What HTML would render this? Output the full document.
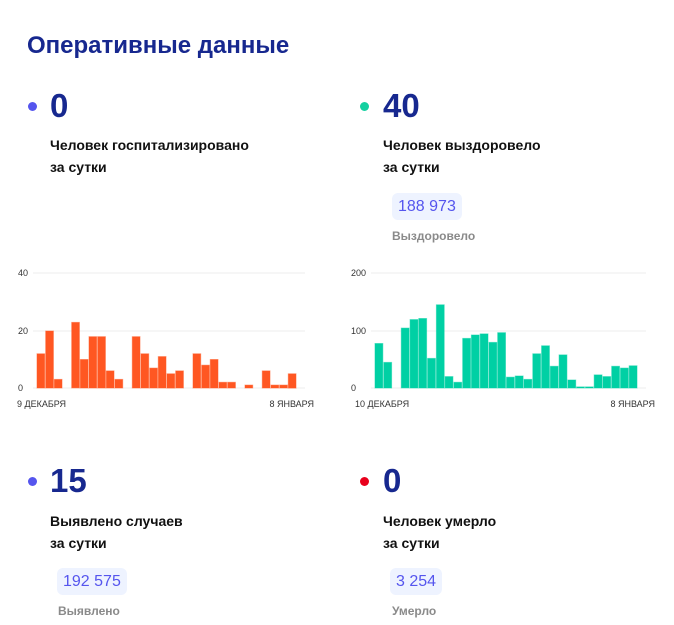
<!DOCTYPE html>
<html><head><meta charset="utf-8"><style>
body{margin:0;width:674px;height:625px;background:#fff;font-family:"Liberation Sans",sans-serif;position:relative;overflow:hidden}
.a{position:absolute;white-space:nowrap}
.t{left:27px;top:32px;font-size:24px;font-weight:bold;color:#17288f}
.n{font-size:33px;font-weight:bold;color:#17288f;line-height:33px}
.d{width:9px;height:9px;border-radius:50%}
.l{font-size:14px;font-weight:bold;color:#111;line-height:22px}
.b{background:#eef3ff;border-radius:6px;color:#5555ee;font-size:16px;height:27px;line-height:27px;padding:0 6px}
.g{font-size:12px;font-weight:bold;color:#8a8a8a}
</style></head><body>
<div class="a t">Оперативные данные</div>

<div class="a d" style="left:28px;top:102px;background:#5555ee"></div>
<div class="a n" style="left:50px;top:89px">0</div>
<div class="a l" style="left:50px;top:134px">Человек госпитализировано<br>за сутки</div>

<div class="a d" style="left:360px;top:102px;background:#14d0a0"></div>
<div class="a n" style="left:383px;top:89px">40</div>
<div class="a l" style="left:383px;top:134px">Человек выздоровело<br>за сутки</div>
<div class="a b" style="left:392px;top:193px">188 973</div>
<div class="a g" style="left:392px;top:229px">Выздоровело</div>

<div class="a d" style="left:28px;top:477px;background:#5555ee"></div>
<div class="a n" style="left:50px;top:464px">15</div>
<div class="a l" style="left:50px;top:510px">Выявлено случаев<br>за сутки</div>
<div class="a b" style="left:57px;top:568px">192 575</div>
<div class="a g" style="left:58px;top:604px">Выявлено</div>

<div class="a d" style="left:360px;top:477px;background:#e8001c"></div>
<div class="a n" style="left:383px;top:464px">0</div>
<div class="a l" style="left:383px;top:510px">Человек умерло<br>за сутки</div>
<div class="a b" style="left:390px;top:568px">3 254</div>
<div class="a g" style="left:392px;top:604px">Умерло</div>

<svg class="a" style="left:0;top:0" width="674" height="625" id="s"></svg>
<script>
function chart(x0,w,max,vals,col,labels,startL,endL,lx){
 var s='',bw=w/vals.length,ppu=114/max;
 [[0,388],[max/2,331],[max,273]].forEach(function(g){
  s+='<line x1="'+(x0-4)+'" x2="'+(x0+w+8)+'" y1="'+g[1]+'" y2="'+g[1]+'" stroke="#eee"/>';
  s+='<text x="'+lx+'" y="'+(g[1]+3)+'" font-size="9" fill="#333" font-family="Liberation Sans">'+g[0]+'</text>';
 });
 vals.forEach(function(v,i){ if(v>0){var h=v*ppu;
  s+='<rect x="'+(x0+i*bw).toFixed(1)+'" y="'+(388-h).toFixed(1)+'" width="'+(bw-1).toFixed(1)+'" height="'+h.toFixed(1)+'" fill="'+col+'" stroke="'+col+'" stroke-opacity="0.5"/>';}});
 s+='<text x="'+(x0-20)+'" y="407" font-size="9" fill="#333" font-family="Liberation Sans">'+startL+'</text>';
 s+='<text x="'+(x0+w+17)+'" y="407" text-anchor="end" font-size="9" fill="#333" font-family="Liberation Sans">'+endL+'</text>';
 return s;
}
document.getElementById('s').innerHTML=
 chart(37,260,40,[12,20,3,0,23,10,18,18,6,3,0,18,12,7,11,5,6,0,12,8,10,2,2,0,1,0,6,1,1,5],'#ff5722',0,'9 ДЕКАБРЯ','8 ЯНВАРЯ',18)+
 chart(375,263,200,[78,45,0,105,120,122,52,146,20,10,87,93,95,80,97,19,21,15,60,74,38,58,14,2,2,23,20,38,35,39],'#00d0a4',0,'10 ДЕКАБРЯ','8 ЯНВАРЯ',351);
</script>
</body></html>
